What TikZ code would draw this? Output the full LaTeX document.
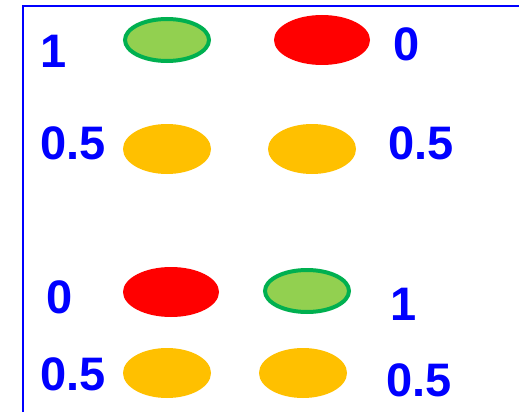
\documentclass[tikz,border=0pt]{standalone}
\usepackage{fontspec}
\setmainfont{Liberation Sans}
\usetikzlibrary{shapes.geometric}
\definecolor{frameblue}{HTML}{0000FF}
\definecolor{okgreen}{HTML}{92D050}
\definecolor{okrim}{HTML}{00B050}
\definecolor{badred}{HTML}{FF0000}
\definecolor{halfamber}{HTML}{FFC000}
\tikzset{
  frame/.style = {draw=frameblue, line width=2.6pt},
  val/.style   = {text=frameblue, font=\fontsize{47}{47}\selectfont\bfseries, inner sep=0pt},
  dot/.style   = {ellipse, inner sep=0pt, minimum width=88pt, minimum height=48pt},
  win/.style   = {dot, fill=okgreen, draw=okrim, line width=4pt, minimum width=84pt, minimum height=42pt},
  lose/.style  = {dot, fill=badred, minimum width=96pt, minimum height=50pt},
  tie/.style   = {dot, fill=halfamber, minimum height=50pt},
}
\begin{document}
\begin{tikzpicture}[x=1pt,y=-1pt]
\useasboundingbox (0,0) rectangle (519,412);
% frame
\draw[frame] (23,412) -- (23,6) -- (519,6);
% first game
\node[val] (a1) at (54,51) {1};
\node[win] (ga1) at (167,40) {};
\node[lose] (gb1) at (322,40) {};
\node[val] (b1) at (407,44) {0};
\node[val] (a2) at (73,143) {0.5};
\node[tie] (ga2) at (167,149) {};
\node[tie] (gb2) at (312,149) {};
\node[val] (b2) at (421,143) {0.5};
% second game
\node[val] (a3) at (60,297) {0};
\node[lose] (ga3) at (171,292) {};
\node[win] (gb3) at (307,291) {};
\node[val] (b3) at (404,304) {1};
\node[val] (a4) at (73,374) {0.5};
\node[tie] (ga4) at (167,373) {};
\node[tie] (gb4) at (303,373) {};
\node[val] (b4) at (419,380) {0.5};
\end{tikzpicture}
\end{document}
